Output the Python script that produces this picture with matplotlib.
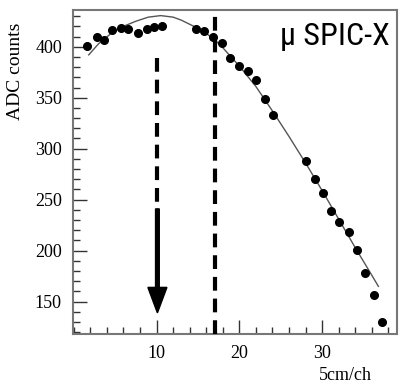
import matplotlib
matplotlib.use("Agg")
import matplotlib.pyplot as plt
from matplotlib.ticker import MultipleLocator
from matplotlib import font_manager

# data points
x_pts = [1.6, 2.75, 3.6, 4.6, 5.65, 6.6, 7.7, 8.8, 9.7, 10.7,
         14.75, 15.7, 16.85, 17.9, 18.9, 20.0, 21.1, 22.0, 23.1, 24.1,
         28.05, 29.1, 30.1, 31.1, 32.1, 33.2, 34.2, 35.2, 36.3, 37.2]
y_pts = [401, 410, 407, 416, 418, 417, 413, 417, 419, 420,
         417, 415, 410, 404, 389, 381, 376, 367, 349, 333,
         287.5, 270, 256.5, 239, 228.5, 218, 201, 178, 157, 130.5]

# fit curve
x_fit = [1.8, 3.0, 4.5, 6.0, 7.5, 9.0, 10.5, 12.0, 13.0, 14.0, 15.0, 16.0,
         17.0, 18.0, 19.0, 20.0, 22.0, 24.0, 26.0, 28.0, 30.0, 32.0, 34.0,
         36.0, 36.8]
y_fit = [392, 403, 413, 420, 425, 429, 430.5, 429, 426, 422, 418, 413,
         407, 399, 390, 381, 361, 337, 312, 286, 259, 231, 203, 176, 165]

x_ticks = [10, 20, 30]
y_ticks = [150, 200, 250, 300, 350, 400]

cut_x = 17.05
arrow_x = 10.1
arrow_dash = (389, 245)
arrow_solid = (241, 139)

names = {f.name for f in font_manager.fontManager.ttflist}
title_family = [n for n in ["DejaVu Sans Condensed", "Liberation Sans Narrow",
                            "Roboto Condensed", "Open Sans Condensed"] if n in names]
title_family += ["DejaVu Sans"]

fig = plt.figure(figsize=(4.03, 3.85), dpi=100)
ax = fig.add_axes([73/403, 1-334/385, 324/403, 324/385])
ax.set_xlim(-0.1, 39.05)
ax.set_ylim(118.3, 436)

ax.plot(x_fit, y_fit, color="#555555", lw=1.0, zorder=2)
ax.plot(x_pts, y_pts, "o", color="black", ms=5.5, zorder=3)

ax.axvline(cut_x, color="black", lw=3, linestyle=(0, (3.3, 1.9)), zorder=4)
ax.plot([arrow_x, arrow_x], list(arrow_dash), color="black", lw=3,
        linestyle=(0, (3.3, 1.9)), zorder=4)
ax.arrow(arrow_x, arrow_solid[0], 0, arrow_solid[1]-arrow_solid[0], width=0.45,
         head_width=2.3, head_length=25, length_includes_head=True,
         color="black", zorder=4)

ax.set_xticks(x_ticks)
ax.set_yticks(y_ticks)
ax.xaxis.set_minor_locator(MultipleLocator(2))
ax.yaxis.set_minor_locator(MultipleLocator(10))
ax.tick_params(which="both", direction="in", top=False, right=False,
               color="#333333")
ax.tick_params(which="major", length=10, width=1)
ax.tick_params(which="minor", length=5, width=1)
ax.tick_params(axis="y", pad=8)
ax.tick_params(axis="x", pad=8)
for lab in ax.get_xticklabels() + ax.get_yticklabels():
    lab.set_fontfamily("Liberation Serif")
    lab.set_fontsize(13)

for s in ax.spines.values():
    s.set_color("#777777")
    s.set_linewidth(1.5)

ax.set_ylabel("ADC counts", family="Liberation Serif", fontsize=14)
ax.yaxis.set_label_coords(-0.15, 0.81)

fig.text(372/403, 1-375/385, "5cm/ch", family="Liberation Serif",
         fontsize=13, ha="right", va="center")

ax.text(0.978, 0.892, "μ SPIC-X", transform=ax.transAxes, ha="right",
        va="baseline", fontsize=23, family=title_family)

fig.savefig("out.png", dpi=100)
